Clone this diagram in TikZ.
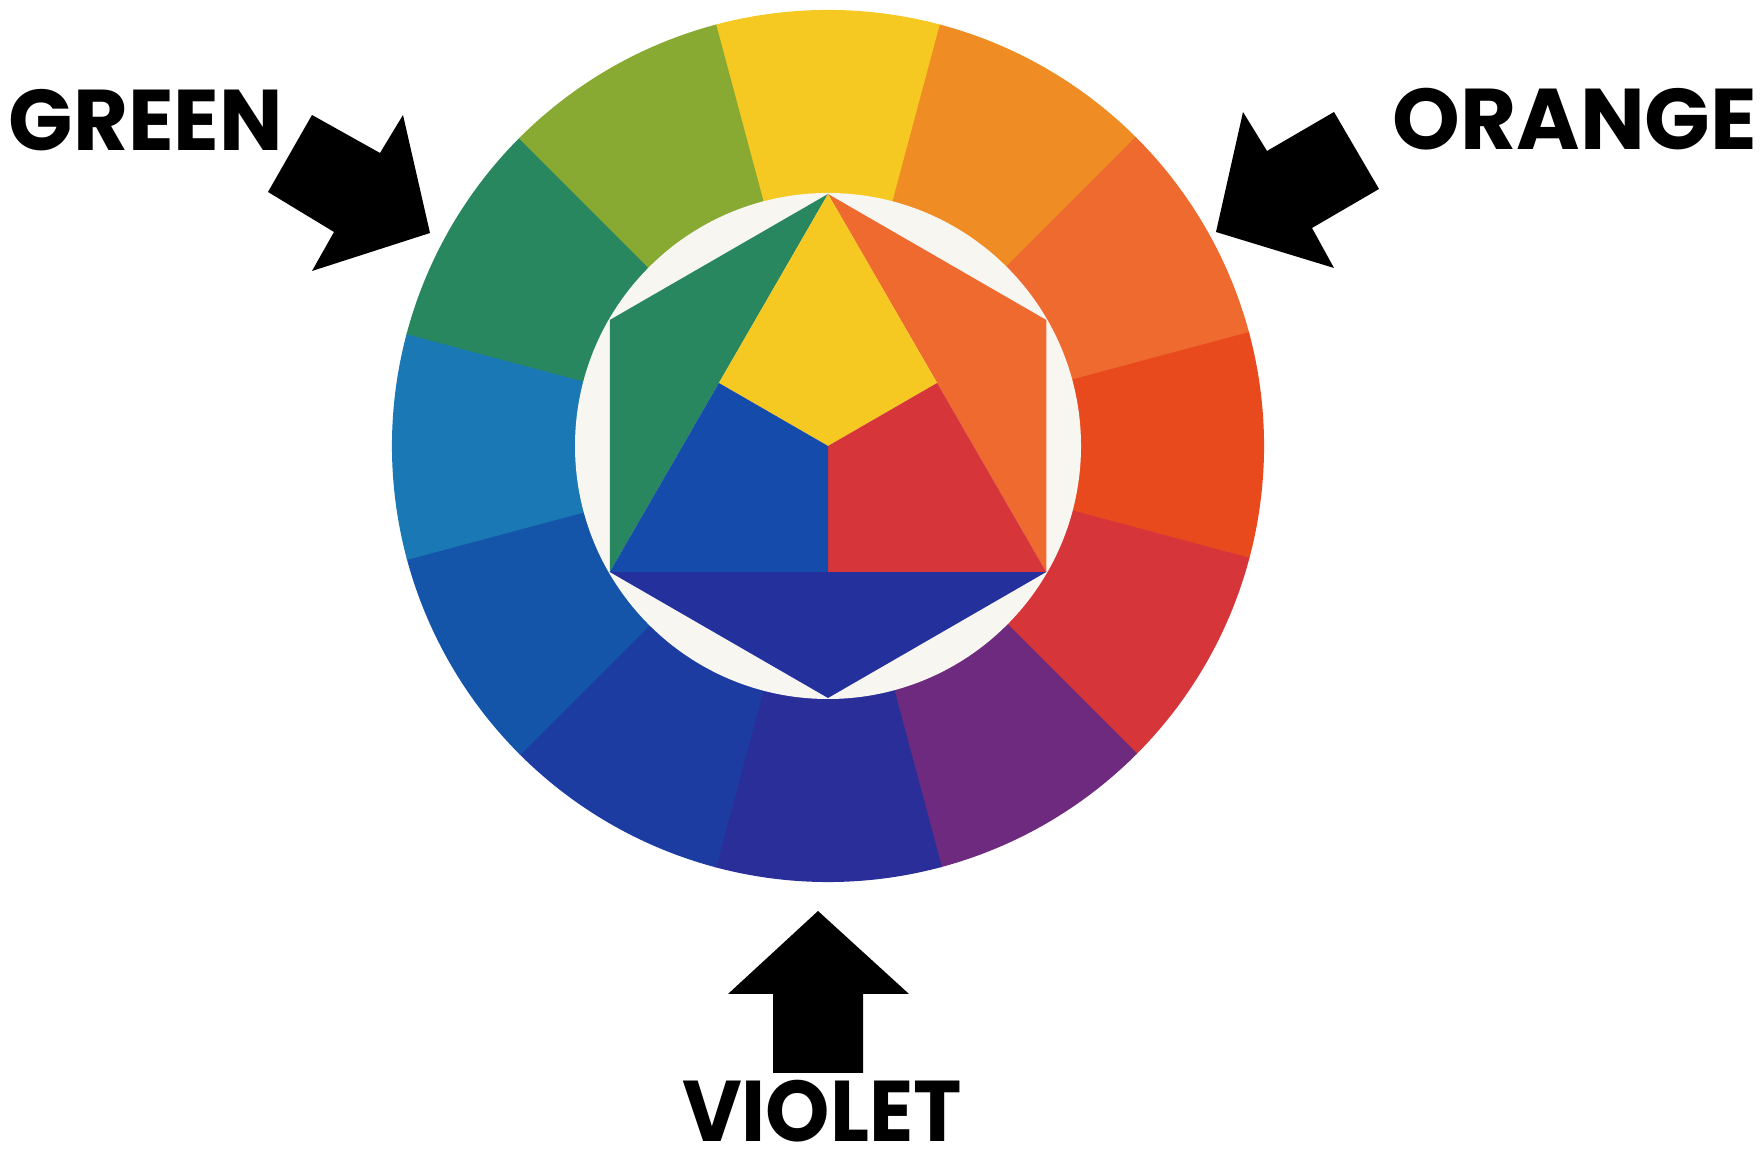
\documentclass[tikz,border=0pt]{standalone}
\usepackage{fontspec}
\newfontfamily\labelfont{Poppins}
\usepackage{tikz}
\usetikzlibrary{calc}

% ring colours, yellow on top, clockwise
\definecolor{wYellow}{HTML}{F6C822}
\definecolor{wYelOrange}{HTML}{F08C24}
\definecolor{wOrange}{HTML}{EE6A2E}
\definecolor{wRedOrange}{HTML}{E84A1E}
\definecolor{wRed}{HTML}{D6353A}
\definecolor{wRedViolet}{HTML}{6E2A7E}
\definecolor{wViolet}{HTML}{2A2E98}
\definecolor{wBlueViolet}{HTML}{1C3CA2}
\definecolor{wBlue}{HTML}{1455AA}
\definecolor{wBlueGreen}{HTML}{1A78B4}
\definecolor{wGreen}{HTML}{28875F}
\definecolor{wYelGreen}{HTML}{88AA32}
% centre star
\definecolor{wPaper}{HTML}{F8F6F1}
\definecolor{triBlue}{HTML}{154BAB}
\definecolor{triViolet}{HTML}{24309C}

\begin{document}
\begin{tikzpicture}[
      x=0.01cm, y=0.01cm,
      colname/.style={font=\labelfont\bfseries\fontsize{24.5}{28}\selectfont,
                      inner sep=0pt, anchor=base, text height=17pt, text depth=0pt},
      blockarrow/.style={fill=black},
    ]
    % one unit = one pixel of the 1764 x 1152 frame, y up
    \useasboundingbox (0,0) rectangle (1764,1152);
    \coordinate (wheel) at (828,706);
    \coordinate (hub) at (828,706);

    % outer ring: twelve 30 degree sectors
    \foreach \a/\col in {90/wYellow, 60/wYelOrange, 30/wOrange, 0/wRedOrange,
                         -30/wRed, -60/wRedViolet, -90/wViolet, -120/wBlueViolet,
                         -150/wBlue, 180/wBlueGreen, 150/wGreen, 120/wYelGreen} {
      \fill[\col, draw=\col, line width=0.6pt] (wheel) -- ++(\a-15:435)
        arc[start angle=\a-15, end angle=\a+15, radius=435] -- cycle;
    }

    % paper disc in the middle
    \fill[wPaper] (hub) circle[radius=253];

    % hexagon corners h1..h6 (h1 on top, counter-clockwise)
    \foreach \a [count=\i] in {90,150,210,270,330,30}
      \coordinate (h\i) at ($(hub)+(\a:252)$);
    % edge midpoints of the primary triangle
    \coordinate (mL) at ($(hub)+(150:126)$);
    \coordinate (mR) at ($(hub)+(30:126)$);
    \coordinate (mB) at ($(hub)+(270:126)$);

    % secondary triangles
    \fill[wGreen] (h1) -- (h2) -- (h3) -- cycle;
    \fill[wOrange] (h1) -- (h6) -- (h5) -- cycle;
    \fill[triViolet] (h3) -- (h4) -- (h5) -- cycle;
    % primary triangle, split in three
    \fill[wYellow] (h1) -- (mR) -- (hub) -- (mL) -- cycle;
    \fill[wRed] (hub) -- (mR) -- (h5) -- (mB) -- cycle;
    \fill[triBlue] (hub) -- (mB) -- (h3) -- (mL) -- cycle;

    % block arrows
    \fill[blockarrow] (268,960) -- (312,1037) -- (380,999) -- (403,1037)
      -- (430,919) -- (312,881) -- (334,920) -- cycle;               % green
    \fill[blockarrow] (1216,920) -- (1243,1040) -- (1267,1001) -- (1334,1040)
      -- (1379,963) -- (1312,924) -- (1334,884) -- cycle;            % orange
    \fill[blockarrow] (818,241) -- (909,158) -- (863,158) -- (863,79)
      -- (773,79) -- (773,158) -- (728,158) -- cycle;                % violet

    % names
    \node[colname, xscale=0.98] (green) at (146,1001) {GREEN};
    \node[colname] (orange) at (1575,1002) {ORANGE};
    \node[colname, xscale=0.95] (violet) at (822,10) {VIOLET};
  \end{tikzpicture}
\end{document}
